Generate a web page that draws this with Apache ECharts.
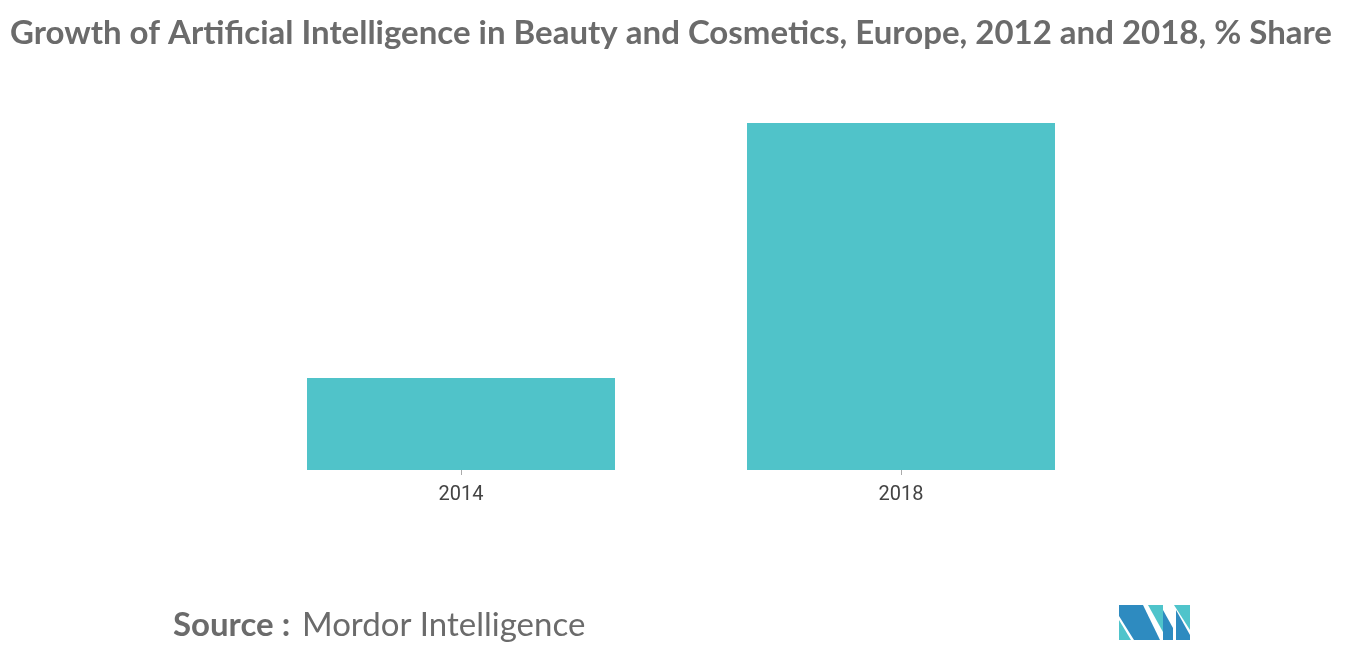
<!DOCTYPE html>
<html>
<head>
<meta charset="utf-8">
<script src="https://cdn.jsdelivr.net/npm/echarts@6/dist/echarts.min.js"></script>
<style>html,body{margin:0;padding:0;background:#fff;}#chart{width:1366px;height:655px;}</style>
</head>
<body>
<div id="chart"></div>
<script>
var years = ['2014', '2018'];
var shares = [26.5, 100];

var myChart = echarts.init(document.getElementById('chart'));

var option = {
	animation: false,
	title: {
		text: 'Growth of Artificial Intelligence in Beauty and Cosmetics, Europe, 2012 and 2018, % Share',
		left: 5,
		top: 12,
		textStyle: { fontFamily: 'Lato', fontSize: 33, fontWeight: 'bold', color: '#6b6b6b' }
	},
	grid: { left: 241, right: 245, top: 123, bottom: 185 },
	xAxis: {
		type: 'category',
		data: years,
		axisLine: { show: false },
		axisTick: { show: true, alignWithLabel: true, length: 5, lineStyle: { color: '#aaa' } },
		axisLabel: { fontFamily: 'Roboto', fontSize: 20, color: '#444', margin: 15 }
	},
	yAxis: { type: 'value', min: 0, max: 100, show: false, splitLine: { show: false } },
	series: [{
		type: 'bar',
		data: shares,
		barWidth: '70%',
		itemStyle: { color: '#50c3c9' }
	}],
	graphic: [
		{ type: 'text', left: 173, top: 609, style: { text: 'Source :', font: 'bold 33px Lato', fill: '#6b6b6b' } },
		{ type: 'text', left: 302, top: 609, style: { text: 'Mordor Intelligence', font: '33px Lato', fill: '#6b6b6b' } },
		{ type: 'polygon', shape: { points: [[1119,620],[1119,640],[1131,640]] }, style: { fill: '#4fc4cb' } },
		{ type: 'polygon', shape: { points: [[1119,605],[1143,605],[1160,640],[1134,640],[1119,616]] }, style: { fill: '#2e8bc0' } },
		{ type: 'polygon', shape: { points: [[1148,605],[1163,605],[1163,632]] }, style: { fill: '#4fc4cb' } },
		{ type: 'polygon', shape: { points: [[1163,610],[1173,628],[1173,640],[1163,640]] }, style: { fill: '#2e8bc0' } },
		{ type: 'polygon', shape: { points: [[1174,605],[1190,605],[1190,630]] }, style: { fill: '#4fc4cb' } },
		{ type: 'polygon', shape: { points: [[1176,610],[1190,635],[1190,640],[1176,640]] }, style: { fill: '#2e8bc0' } }
	]
};

myChart.setOption(option);
</script>
</body>
</html>
